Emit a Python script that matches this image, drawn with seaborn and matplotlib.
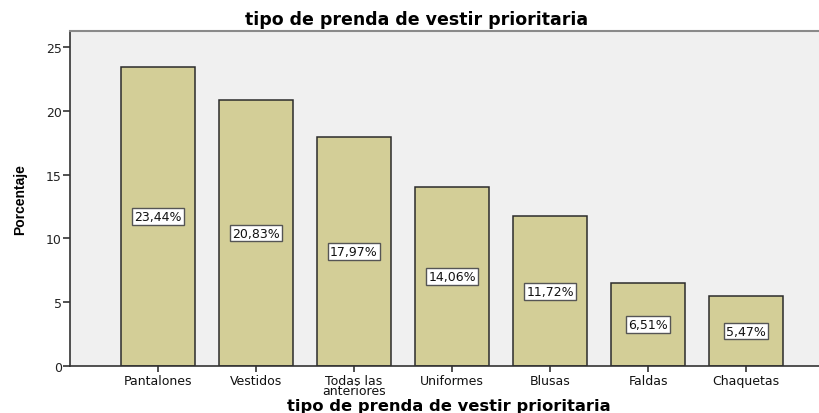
import matplotlib
matplotlib.use("Agg")
import matplotlib.pyplot as plt
import pandas as pd
import seaborn as sns

# ── Data ──────────────────────────────────────────────────────────────
categories = ["Pantalones", "Vestidos", "Todas las\nanteriores", "Uniformes",
              "Blusas", "Faldas", "Chaquetas"]
percentages = [23.44, 20.83, 17.97, 14.06, 11.72, 6.51, 5.47]
value_labels = ["23,44%", "20,83%", "17,97%", "14,06%", "11,72%", "6,51%", "5,47%"]
y_ticks = [0, 5, 10, 15, 20, 25]

sns.set_style("white")
plt.rcParams["font.family"] = ["DejaVu Sans"]
plt.rcParams["text.color"] = "black"
plt.rcParams["axes.labelcolor"] = "black"

df = pd.DataFrame({"prenda": categories, "pct": percentages})

fig = plt.figure(figsize=(8.2, 4.14), dpi=100)
ax = fig.add_axes([70 / 820, 1 - 367 / 414, 750 / 820, 335 / 414])
ax.set_facecolor("#F0F0F0")

sns.barplot(data=df, x="prenda", y="pct", color="#D3CE97", saturation=1,
            edgecolor="#2b2b2b", linewidth=1.1, width=0.755, ax=ax)

# etiquetas en el centro de cada barra
for i, (v, lab) in enumerate(zip(percentages, value_labels)):
    ax.text(i, v / 2, lab, ha="center", va="center", fontsize=9, color="#111111",
            bbox=dict(boxstyle="square,pad=0.15", facecolor="white",
                      edgecolor="#555555", linewidth=1.0))

ax.set_xlim(-0.898, 6.755)
ax.set_ylim(0, 26.25)
ax.set_yticks(y_ticks)
ax.set_yticklabels([str(t) for t in y_ticks], fontsize=9, color="#222222")
ax.tick_params(axis="x", labelsize=9, length=4, width=1.2, color="#333333",
               pad=2, bottom=True, labelcolor="#111111")
ax.tick_params(axis="y", length=5, width=1.2, color="#333333", pad=1, left=True)
for lbl in ax.get_xticklabels():
    lbl.set_linespacing(0.7)

ax.spines["right"].set_visible(False)
ax.spines["top"].set_color("#8a8a8a")
ax.spines["top"].set_linewidth(1.5)
for side in ["left", "bottom"]:
    ax.spines[side].set_color("#333333")
    ax.spines[side].set_linewidth(1.2)

fig.text(417 / 820, 1 - 20 / 414, "tipo de prenda de vestir prioritaria",
         ha="center", va="center", fontsize=12.5, fontweight="bold")
ax.set_xlabel("tipo de prenda de vestir prioritaria", fontsize=11.8,
              fontweight="bold")
ax.xaxis.label.set_verticalalignment("center")
ax.xaxis.set_label_coords((449 - 70) / 750, -(406 - 367) / 335)
ax.set_ylabel("Porcentaje", fontsize=10, fontweight="heavy",
              family=["Liberation Sans Narrow", "Liberation Sans"])
ax.yaxis.label.set_verticalalignment("center")
ax.yaxis.set_label_coords(-(70 - 20) / 750, (367 - 200) / 335)

fig.savefig("out.png", dpi=100)
plt.close(fig)
